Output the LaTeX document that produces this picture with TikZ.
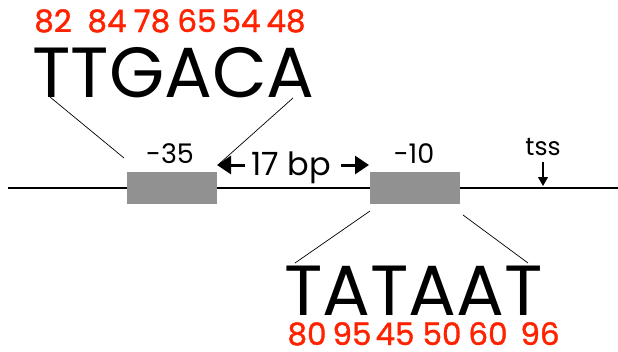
\documentclass[tikz,border=0pt]{standalone}
\usepackage{fontspec}
\setmainfont{Poppins}
\newfontfamily\numfont[FakeBold=1.2]{Poppins}
\usetikzlibrary{arrows.meta}
\definecolor{boxgray}{HTML}{919191}
\definecolor{numred}{HTML}{FF2200}
\begin{document}
\begin{tikzpicture}[x=1pt,y=1pt,
  seq/.style={font=\fontsize{71}{71}\selectfont, inner sep=0pt, anchor=base west},
  score/.style={font=\numfont\fontsize{31}{31}\selectfont, text=numred, inner sep=0pt, anchor=base},
  lbl/.style={font=\fontsize{27}{27}\selectfont, inner sep=0pt, anchor=base},
  promoter/.style={fill=boxgray, draw=none, inner sep=0pt, minimum width=90pt, minimum height=32pt, anchor=north west},
  thinline/.style={line width=0.7pt},
  dnaline/.style={line width=1.1pt},
  bigarrow/.style={-{Triangle[length=14pt,width=18pt]}, line width=3pt},
  smallarrow/.style={-{Triangle[length=9pt,width=10pt]}, line width=1.2pt}]
\useasboundingbox (0,0) rectangle (618,-351);
% DNA line
\coordinate (dnaL) at (8,-188);
\coordinate (dnaR) at (618,-188);
\draw[dnaline] (dnaL) -- (dnaR);
% boxes
\node[promoter] (b35) at (127,-172) {};
\node[promoter] (b10) at (370,-172) {};
% labels
\node[lbl] (l35) at (170,-163) {-35};
\node[lbl] (l10) at (414,-163) {-10};
\node[lbl, font=\fontsize{25}{25}\selectfont] (ltss) at (543,-155) {tss};
\node[lbl, font=\fontsize{32}{32}\selectfont] (l17) at (291,-175) {17 bp};
% arrows
\coordinate (a1s) at (245,-165);
\coordinate (a1e) at (217,-165);
\coordinate (a2s) at (341,-165);
\coordinate (a2e) at (369,-165);
\draw[bigarrow] (a1s) -- (a1e);
\draw[bigarrow] (a2s) -- (a2e);
\coordinate (tssS) at (543,-162);
\coordinate (tssE) at (543,-186);
\draw[smallarrow] (tssS) -- (tssE);
% sequences
\node[seq] (ttgaca) at (32,-97) {TTGACA};
\node[seq] (tataat) at (284,-315) {TATAAT};
% connectors
\coordinate (c1a) at (50,-97);
\coordinate (c1b) at (124,-158);
\coordinate (c2a) at (293,-98);
\coordinate (c2b) at (219,-164);
\coordinate (c3a) at (370,-211);
\coordinate (c3b) at (295,-263);
\coordinate (c4a) at (463,-215);
\coordinate (c4b) at (528,-263);
\draw[thinline] (c1a) -- (c1b);
\draw[thinline] (c2a) -- (c2b);
\draw[thinline] (c3a) -- (c3b);
\draw[thinline] (c4a) -- (c4b);
% scores top
\node[score] (s1) at (53,-32) {82};
\node[score] (s2) at (107,-32) {84};
\node[score] (s3) at (152,-32) {78};
\node[score] (s4) at (197,-32) {65};
\node[score] (s5) at (241,-32) {54};
\node[score] (s6) at (286,-32) {48};
% scores bottom
\node[score] (t1) at (307,-345) {80};
\node[score] (t2) at (352,-345) {95};
\node[score] (t3) at (395,-345) {45};
\node[score] (t4) at (442,-345) {50};
\node[score] (t5) at (488,-345) {60};
\node[score] (t6) at (540,-345) {96};
\end{tikzpicture}
\end{document}
